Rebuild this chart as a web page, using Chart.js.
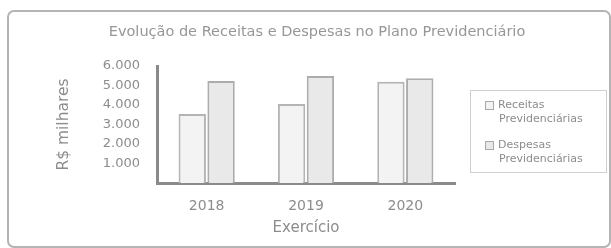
<!DOCTYPE html>
<html>
<head>
<meta charset="utf-8">
<script src="https://cdn.jsdelivr.net/npm/chart.js@4"></script>
<style>
  html, body { margin: 0; padding: 0; background: #fff; }
  #wrap { position: relative; width: 611px; height: 248px; overflow: hidden; }
  #frame { position: absolute; left: 7px; top: 10px; width: 600px; height: 234px;
           border: 2px solid #b4b4b4; border-radius: 7px; box-sizing: content-box; }
  #legend { position: absolute; left: 470px; top: 90px; width: 135px; height: 81px;
            border: 1.5px solid #cfcfcf; font-family: "DejaVu Sans", sans-serif;
            font-size: 11px; color: #8c8c8c; }
  .item { position: absolute; left: 14px; }
  .sw { position: absolute; left: 0; top: 3px; width: 7px; height: 7px; border: 1px solid #a8a8a8; }
  .l1 { position: absolute; left: 13px; top: 0; white-space: nowrap; line-height: 14px; }
  .l2 { position: absolute; left: 14px; top: 14px; white-space: nowrap; line-height: 14px; }
</style>
</head>
<body>
<div id="wrap">
  <canvas id="c" width="611" height="248"></canvas>
  <div id="frame"></div>
  <div id="legend"></div>
</div>
<script>
const chartTitle = "Evolução de Receitas e Despesas no Plano Previdenciário";
const categories = ["2018", "2019", "2020"];
const seriesNames = [["Receitas", "Previdenciárias"], ["Despesas", "Previdenciárias"]];
const receitas = [3540, 4050, 5190];
const despesas = [5230, 5490, 5370];
const yTicks = [0, 1000, 2000, 3000, 4000, 5000, 6000];
const yTitle = "R$ milhares";
const xTitle = "Exercício";

const fills = ["#f3f3f3", "#e9e9e9"];
const borders = ["#b4b4b4", "#acacac"];
const textColor = "#8c8c8c";
const font = "DejaVu Sans";

// HTML legend
const leg = document.getElementById("legend");
seriesNames.forEach((n, i) => {
  const d = document.createElement("div");
  d.className = "item";
  d.style.top = (7 + i * 40) + "px";
  d.innerHTML = '<div class="sw" style="background:' + fills[i] + '"></div>' +
    '<div class="l1">' + n[0] + '</div><div class="l2">' + n[1] + '</div>';
  leg.appendChild(d);
});

const titlePlugin = {
  id: "titleText",
  afterDraw(chart) {
    const ctx = chart.ctx;
    ctx.save();
    ctx.font = "14.5px '" + font + "'";
    ctx.fillStyle = "#979797";
    ctx.textAlign = "center";
    ctx.textBaseline = "middle";
    ctx.fillText(chartTitle, 317, 32);
    ctx.restore();
  }
};

new Chart(document.getElementById("c"), {
  type: "bar",
  data: {
    labels: categories,
    datasets: [
      { label: seriesNames[0].join(" "), data: receitas, backgroundColor: fills[0],
        borderColor: borders[0], borderWidth: 2, borderSkipped: "bottom" },
      { label: seriesNames[1].join(" "), data: despesas, backgroundColor: fills[1],
        borderColor: borders[1], borderWidth: 2, borderSkipped: "bottom" }
    ]
  },
  options: {
    responsive: false,
    animation: false,
    devicePixelRatio: 1,
    layout: { padding: { left: 55, right: 156, top: 66, bottom: 0 } },
    datasets: { bar: { categoryPercentage: 0.58, barPercentage: 0.95 } },
    plugins: { legend: { display: false }, title: { display: false }, tooltip: { enabled: false } },
    scales: {
      x: {
        grid: { display: false, drawTicks: false },
        border: { display: true, color: "#8a8a8a", width: 3 },
        ticks: { color: textColor, font: { family: font, size: 14 }, padding: 15 },
        title: { display: true, text: xTitle, color: textColor,
                 font: { family: font, size: 15 }, padding: { top: 0, bottom: 11 } },
        afterFit(s) { s.height = 65; }
      },
      y: {
        min: 0, max: 6000,
        afterBuildTicks(s) { s.ticks = yTicks.map(v => ({ value: v })); },
        grid: { display: false, drawTicks: false },
        border: { display: true, color: "#8a8a8a", width: 3 },
        ticks: { color: textColor, font: { family: font, size: 13 }, padding: 17,
                 callback: v => v === 0 ? "" : v.toLocaleString("pt-BR") },
        title: { display: true, text: yTitle, color: textColor,
                 font: { family: font, size: 15.5 }, padding: { top: 0, bottom: 0 } },
        afterFit(s) { s.width = 102; }
      }
    }
  },
  plugins: [titlePlugin]
});
</script>
</body>
</html>
